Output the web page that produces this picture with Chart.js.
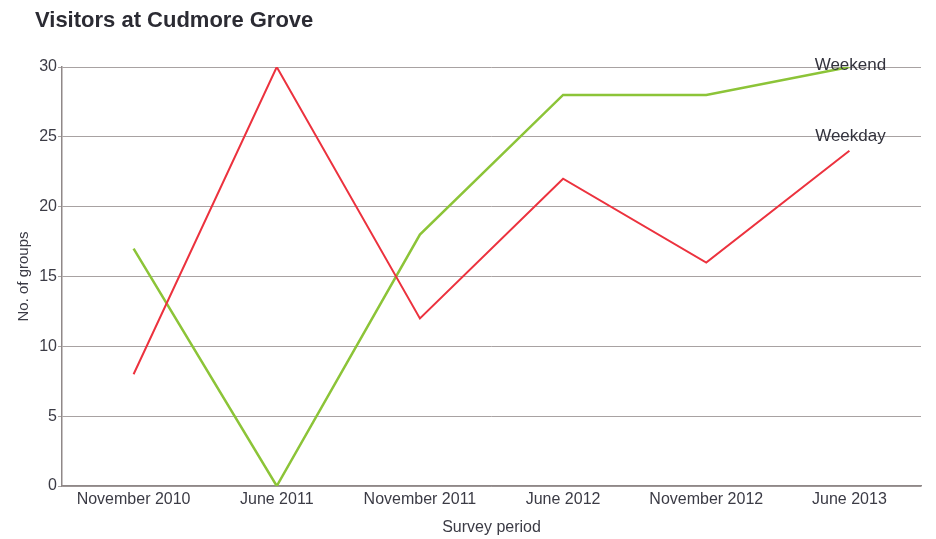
<!DOCTYPE html>
<html>
<head>
<meta charset="utf-8">
<script src="https://cdn.jsdelivr.net/npm/chart.js@4.4.1/dist/chart.umd.min.js"></script>
<style>
  html, body { margin: 0; padding: 0; background: #fff; }
  #wrap { width: 936px; height: 539px; position: relative; }
</style>
</head>
<body>
<div id="wrap"><canvas id="visitorsChart" width="936" height="539"></canvas></div>
<script>
// survey periods and counts
var periods = ['November 2010', 'June 2011', 'November 2011', 'June 2012', 'November 2012', 'June 2013'];
var weekday = [8, 30, 12, 22, 16, 24];
var weekend = [17, 0, 18, 28, 28, 30];
var yTicks = [0, 5, 10, 15, 20, 25, 30];

var FONT = "'Liberation Sans', Arial, sans-serif";

// title drawn at the top left, as in the original
var titlePlugin = {
  id: 'leftTitle',
  afterDraw: function(chart) {
    var ctx = chart.ctx;
    ctx.save();
    ctx.font = 'bold 22px ' + FONT;
    ctx.fillStyle = '#2b2b33';
    ctx.textBaseline = 'middle';
    ctx.textAlign = 'left';
    ctx.fillText('Visitors at Cudmore Grove', 35, 21);
    ctx.restore();
  }
};

// series names written next to the last point of each line
var endLabels = {
  id: 'endLabels',
  afterDatasetsDraw: function(chart) {
    var ctx = chart.ctx;
    var lift = [14, 2];
    ctx.save();
    ctx.font = '17px ' + FONT;
    ctx.textAlign = 'center';
    ctx.textBaseline = 'middle';
    chart.data.datasets.forEach(function(ds, i) {
      var pts = chart.getDatasetMeta(i).data;
      var p = pts[pts.length - 1];
      ctx.fillStyle = '#33333d';
      ctx.fillText(ds.label, p.x + 1, p.y - lift[i]);
    });
    ctx.restore();
  }
};

var ctx = document.getElementById('visitorsChart').getContext('2d');
var chart = new Chart(ctx, {
  type: 'line',
  data: {
    labels: periods,
    datasets: [{
      label: 'Weekday',
      data: weekday,
      borderColor: 'rgb(236, 50, 62)',
      borderWidth: 2,
      pointRadius: 0,
      tension: 0,
      fill: false
    }, {
      label: 'Weekend',
      data: weekend,
      borderColor: 'rgb(140, 196, 56)',
      borderWidth: 2.5,
      pointRadius: 0,
      tension: 0,
      fill: false
    }]
  },
  plugins: [titlePlugin, endLabels],
  options: {
    responsive: false,
    animation: false,
    layout: { padding: { left: 15, right: 15, top: 67, bottom: 2 } },
    plugins: {
      legend: { display: false },
      tooltip: { enabled: false },
      title: { display: false }
    },
    scales: {
      x: {
        type: 'category',
        offset: true,
        grid: { display: false, drawTicks: false },
        border: { display: true, color: '#8f8888', width: 1.5 },
        ticks: {
          color: '#3b3b45',
          font: { family: FONT, size: 16 },
          padding: 4,
          maxRotation: 0,
          autoSkip: false
        },
        title: {
          display: true,
          text: 'Survey period',
          color: '#3b3b45',
          font: { family: FONT, size: 16 },
          padding: { top: 8, bottom: 0 }
        },
        afterFit: function(scale) { scale.height = 51; }
      },
      y: {
        min: 0,
        max: 30,
        afterBuildTicks: function(scale) {
          scale.ticks = yTicks.map(function(v) { return { value: v }; });
        },
        grid: { color: '#a8a2a2', lineWidth: 1, tickLength: 4, drawTicks: true },
        border: { display: true, color: '#8f8888', width: 1.5 },
        ticks: {
          color: '#3b3b45',
          font: { family: FONT, size: 16 },
          padding: 1
        },
        title: {
          display: true,
          text: 'No. of groups',
          color: '#3b3b45',
          font: { family: FONT, size: 15 },
          padding: { top: 0, bottom: 2 }
        },
        afterFit: function(scale) { scale.width = 47; }
      }
    }
  }
});
</script>
</body>
</html>
